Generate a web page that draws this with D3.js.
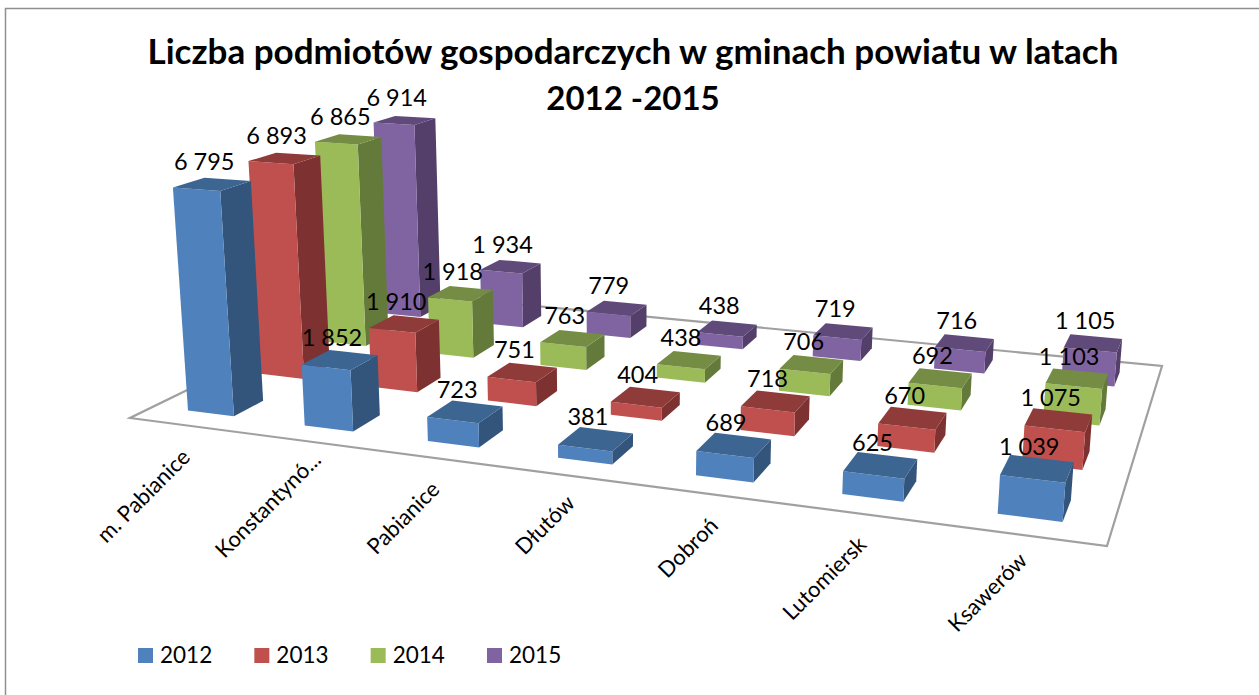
<!DOCTYPE html>
<html>
<head>
<meta charset="utf-8">
<script src="https://cdnjs.cloudflare.com/ajax/libs/d3/7.8.5/d3.min.js"></script>
<style>
  html, body { margin: 0; padding: 0; background: #fff; }
  svg { display: block; }
  text { font-family: Lato, "Open Sans", sans-serif; fill: #000; }
</style>
</head>
<body>
<div id="chart"></div>
<script>
// data
var titleLines = ["Liczba podmiotów gospodarczych w gminach powiatu w latach", "2012 -2015"];
var categories = ["m. Pabianice", "Konstantynó...", "Pabianice", "Dłutów", "Dobroń", "Lutomiersk", "Ksawerów"];
var years = ["2012", "2013", "2014", "2015"];
var values2012 = [6795, 1852, 723, 381, 689, 625, 1039];
var values2013 = [6893, 1910, 751, 404, 718, 670, 1075];
var values2014 = [6865, 1918, 763, 438, 706, 692, 1103];
var values2015 = [6914, 1934, 779, 438, 719, 716, 1105];
var allValues = [values2012, values2013, values2014, values2015];

// layout
var width = 1259, height = 695;
var frontColors = ["#4f81bd", "#c0504d", "#9bbb59", "#8064a2"];
var sideColors = ["#33547b", "#7d3231", "#647a3a", "#533f6a"];
var topColors = ["#3d6592", "#8f3b39", "#748c43", "#5f4a7a"];

// floor corners on screen, and where the uprights converge
var floorFL = [130, 418], floorFR = [1107, 546], floorBR = [1162, 366], floorBL = [388, 292];
var vanish = [620, 6800];

// tick label end points relative to the floor front edge
var tickNudge = [[4, 33], [15, 20], [7, 33], [8, 29], [9, 33], [6, 32], [6, 27]];

var svg = d3.select("#chart").append("svg")
    .attr("width", width)
    .attr("height", height);

svg.append("rect").attr("width", width).attr("height", height).attr("fill", "#fff");

// frame
svg.append("path")
    .attr("d", "M5.5,695V8.5H1259")
    .attr("fill", "none")
    .attr("stroke", "#8f8f8f")
    .attr("stroke-width", 1.5);

// scales, all in floor units
var u = d3.scaleBand().domain(categories).range([0, 1]).paddingInner(0.6).paddingOuter(0.3);
var v = d3.scaleBand().domain(years).range([0, 1]).paddingInner(0.6).paddingOuter(0.3);
var h = d3.scaleLinear().domain([0, 7000]).range([0, -0.0352]);

// homography unit square -> floor quad
function squareToQuad(p00, p10, p11, p01) {
    var dx1 = p10[0] - p11[0], dx2 = p01[0] - p11[0], sx = p00[0] - p10[0] + p11[0] - p01[0];
    var dy1 = p10[1] - p11[1], dy2 = p01[1] - p11[1], sy = p00[1] - p10[1] + p11[1] - p01[1];
    var det = dx1 * dy2 - dx2 * dy1;
    var g = (sx * dy2 - dx2 * sy) / det;
    var k = (dx1 * sy - sx * dy1) / det;
    return [
        [p10[0] - p00[0] + g * p10[0], p01[0] - p00[0] + k * p01[0], p00[0]],
        [p10[1] - p00[1] + g * p10[1], p01[1] - p00[1] + k * p01[1], p00[1]],
        [g, k, 1]
    ];
}
var H = squareToQuad(floorFL, floorFR, floorBR, floorBL);

// a point on the floor at (a, b), lifted by z
function project(a, b, z) {
    var w = H[2][0] * a + H[2][1] * b + 1 + z;
    return [
        (H[0][0] * a + H[0][1] * b + H[0][2] + z * vanish[0]) / w,
        (H[1][0] * a + H[1][1] * b + H[1][2] + z * vanish[1]) / w
    ];
}

var line = d3.line();

// floor
svg.append("path")
    .attr("d", line([[0, 0], [1, 0], [1, 1], [0, 1]].map(function(c) { return project(c[0], c[1], 0); })) + "Z")
    .attr("fill", "none")
    .attr("stroke", "#a0a0a0")
    .attr("stroke-width", 2.2);

// bars, back row first
var bars = [];
years.forEach(function(year, s) {
    categories.forEach(function(cat, c) {
        bars.push({cat: cat, year: year, s: s, value: allValues[s][c]});
    });
});
bars.sort(function(a, b) { return b.s - a.s || categories.indexOf(a.cat) - categories.indexOf(b.cat); });

var barG = svg.selectAll("g.bar").data(bars).enter().append("g").attr("class", "bar");

function corners(d) {
    var a0 = u(d.cat), a1 = a0 + u.bandwidth();
    var b0 = v(d.year), b1 = b0 + v.bandwidth();
    return {a0: a0, a1: a1, b0: b0, b1: b1, z: h(d.value)};
}

barG.append("path")
    .attr("fill", function(d) { return sideColors[d.s]; })
    .attr("d", function(d) {
        var q = corners(d);
        return line([project(q.a1, q.b0, 0), project(q.a1, q.b1, 0), project(q.a1, q.b1, q.z), project(q.a1, q.b0, q.z)]) + "Z";
    });
barG.append("path")
    .attr("fill", function(d) { return frontColors[d.s]; })
    .attr("d", function(d) {
        var q = corners(d);
        return line([project(q.a0, q.b0, 0), project(q.a1, q.b0, 0), project(q.a1, q.b0, q.z), project(q.a0, q.b0, q.z)]) + "Z";
    });
barG.append("path")
    .attr("fill", function(d) { return topColors[d.s]; })
    .attr("d", function(d) {
        var q = corners(d);
        return line([project(q.a0, q.b0, q.z), project(q.a1, q.b0, q.z), project(q.a1, q.b1, q.z), project(q.a0, q.b1, q.z)]) + "Z";
    });

// value labels on top of everything
var formatValue = function(n) { return d3.format(",")(n).replace(",", " "); };
svg.selectAll("text.value").data(bars).enter().append("text")
    .attr("class", "value")
    .attr("text-anchor", "middle")
    .attr("font-size", 23.5)
    .attr("x", function(d) {
        var q = corners(d);
        return project((q.a0 + q.a1) / 2, (q.b0 + q.b1) / 2, q.z)[0] - 8;
    })
    .attr("y", function(d) {
        var q = corners(d);
        return project((q.a0 + q.a1) / 2, (q.b0 + q.b1) / 2, q.z)[1] - 14;
    })
    .text(function(d) { return formatValue(d.value); });

// category labels
svg.selectAll("text.tick").data(categories).enter().append("text")
    .attr("class", "tick")
    .attr("text-anchor", "end")
    .attr("font-size", 22)
    .attr("transform", function(d, i) {
        var p = project(u(d) + u.bandwidth() / 2, 0, 0);
        return "translate(" + (p[0] + tickNudge[i][0]) + "," + (p[1] + tickNudge[i][1]) + ") rotate(-45)";
    })
    .text(function(d) { return d; });

// title
svg.selectAll("text.title").data(titleLines).enter().append("text")
    .attr("class", "title")
    .attr("text-anchor", "middle")
    .attr("font-size", function(d, i) { return i ? 33 : 35; })
    .attr("font-weight", 700)
    .attr("x", 633)
    .attr("y", function(d, i) { return 64 + i * 46; })
    .text(function(d) { return d; });

// legend
var legendX = d3.scalePoint().domain(years).range([138, 487]);
var legend = svg.selectAll("g.legend").data(years).enter().append("g")
    .attr("class", "legend")
    .attr("transform", function(d) { return "translate(" + legendX(d) + ",648)"; });
legend.append("rect")
    .attr("width", 15)
    .attr("height", 15)
    .attr("fill", function(d, i) { return frontColors[i]; });
legend.append("text")
    .attr("x", 22)
    .attr("y", 15)
    .attr("font-size", 22.5)
    .text(function(d) { return d; });
</script>
</body>
</html>
